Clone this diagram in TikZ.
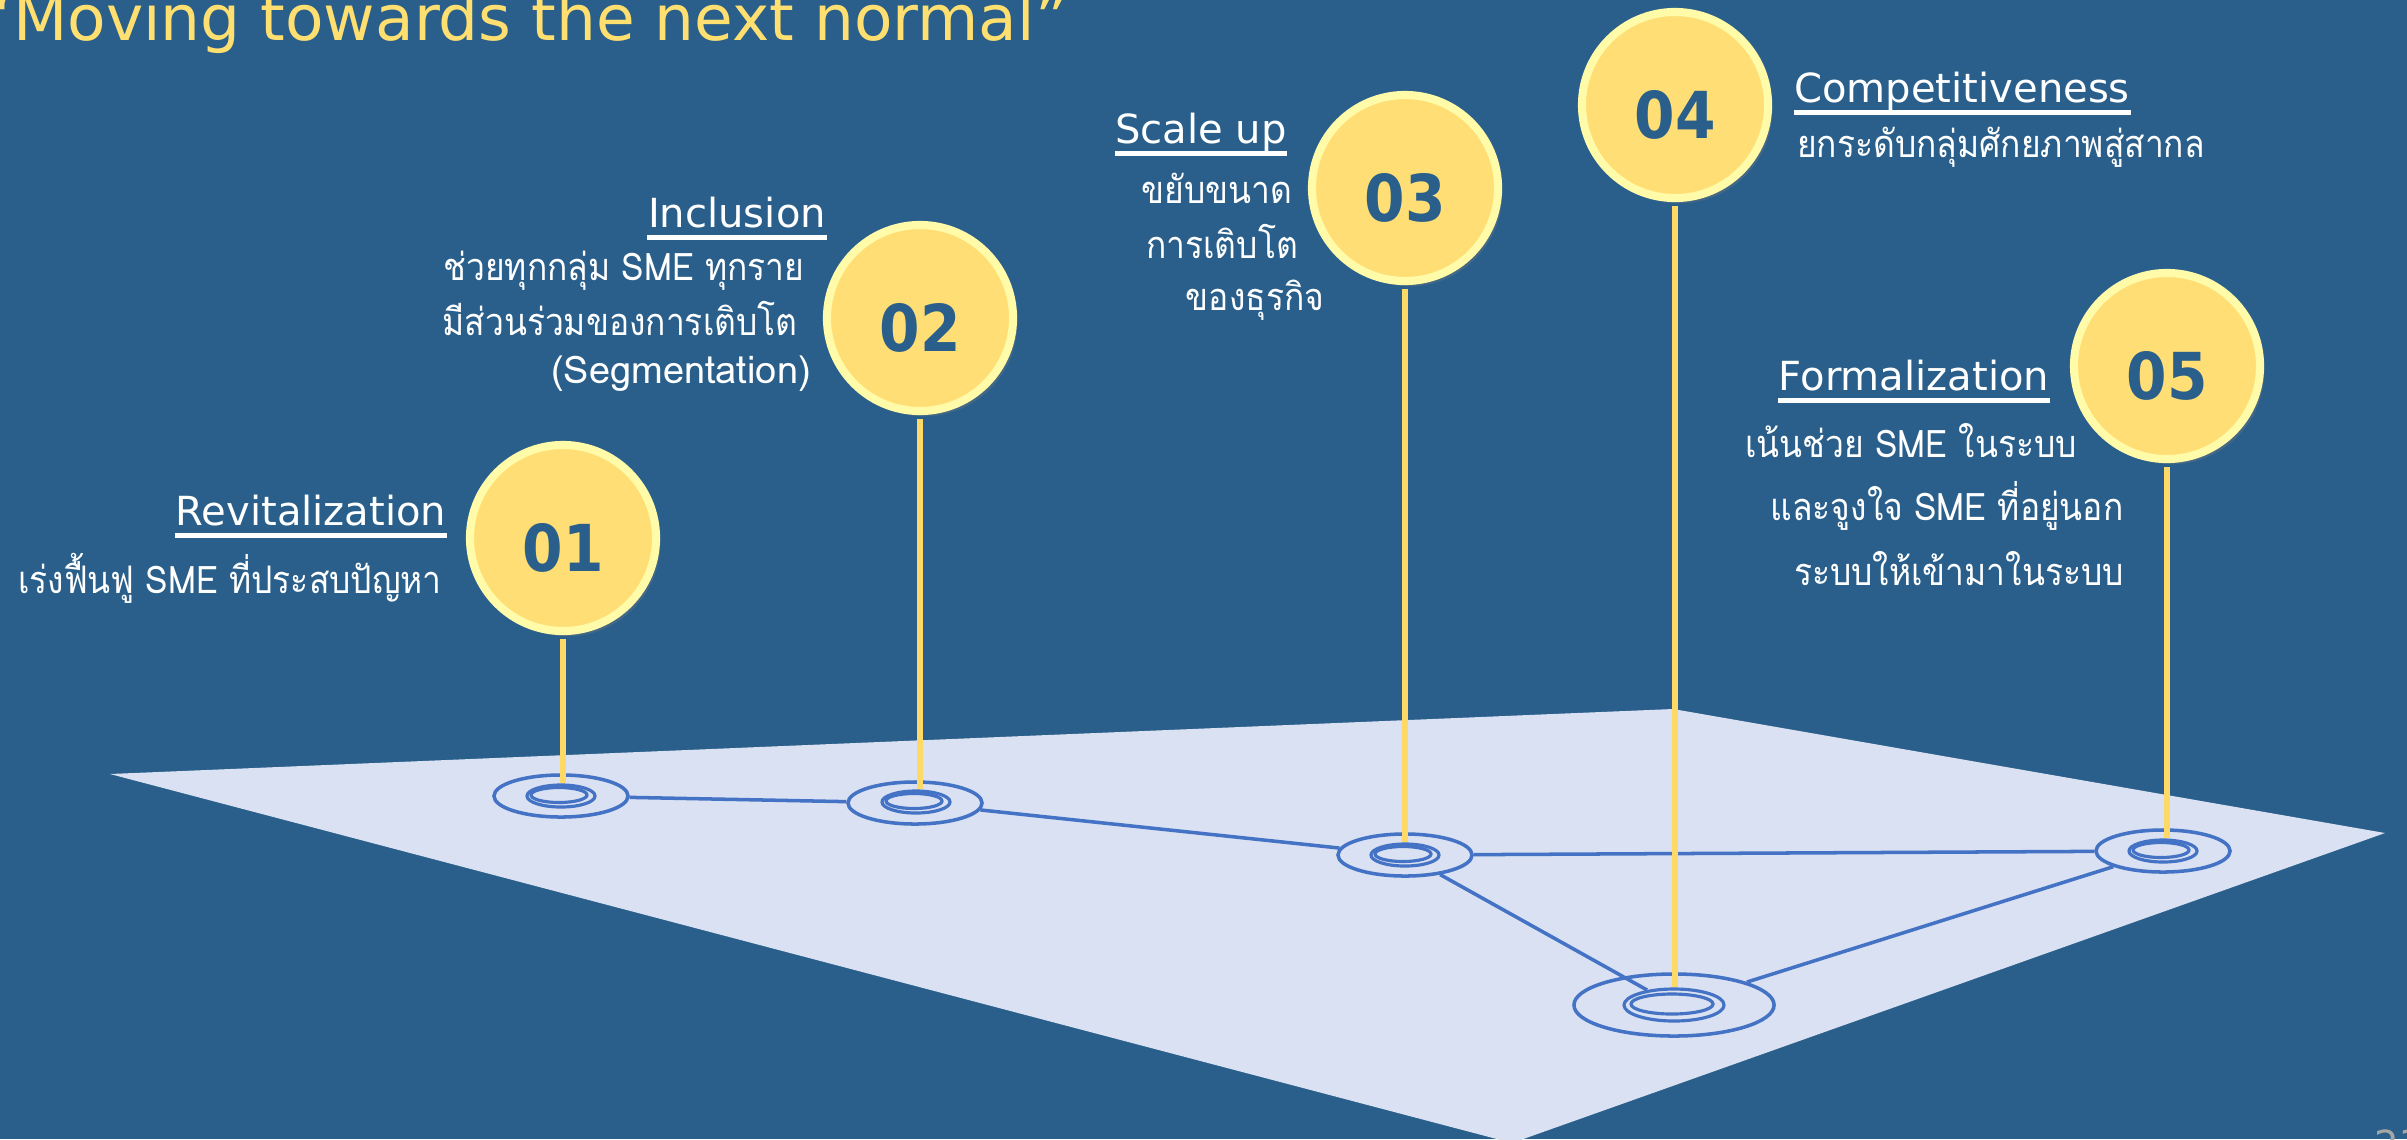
\documentclass[tikz,border=0pt]{standalone}
\usepackage{fontspec}
\setmainfont{DejaVu Sans}
\newfontfamily\thaifont[Script=Thai,FakeStretch=0.885]{Loma}
\newfontfamily\latinthai{Loma}
\newfontfamily\numfont[FakeStretch=0.9]{DejaVu Sans}
\usetikzlibrary{shapes.geometric,shadows}
\definecolor{bgblue}{HTML}{295F8A}
\definecolor{floorgray}{HTML}{D9E1F2}
\definecolor{netblue}{HTML}{4472C4}
\definecolor{pinfill}{HTML}{FFDF75}
\definecolor{pinrim}{HTML}{FFFBA8}
\definecolor{stemgold}{HTML}{FFD966}
\definecolor{titlegold}{HTML}{FFDF70}
\definecolor{pagegray}{HTML}{A6A6A6}
\tikzset{
  pin/.style={circle, fill=pinfill, draw=pinrim, line width=2.3pt, minimum size=1.86cm, inner sep=0pt,
    text=bgblue, font=\numfont\bfseries\fontsize{18.4}{18.4}\selectfont, text height=19pt, text depth=0pt,
    drop shadow={shadow xshift=1.2pt, shadow yshift=-1.5pt, opacity=0.3}},
  pad/.style={ellipse, draw=netblue, line width=1pt, inner sep=0pt, minimum width=1.34cm, minimum height=0.42cm},
  bigpad/.style={pad, minimum width=2cm, minimum height=0.62cm},
  ring/.style={ellipse, draw=netblue, line width=0.9pt, inner sep=0pt, minimum width=0.68cm, minimum height=0.22cm},
  bigring/.style={ring, minimum width=1cm, minimum height=0.32cm},
  coil/.style={ring, minimum width=0.56cm, minimum height=0.15cm},
  bigcoil/.style={ring, minimum width=0.82cm, minimum height=0.2cm},
  stem/.style={draw=stemgold, line width=1.7pt},
  link/.style={draw=netblue, line width=1pt},
  heading/.style={text=white, inner sep=0pt, anchor=base, font=\fontsize{11.4}{13}\selectfont},
  thailine/.style={text=white, inner sep=0pt, anchor=base, font=\thaifont\fontsize{10.8}{13}\selectfont},
  latinline/.style={thailine, font=\latinthai\fontsize{10.8}{13}\selectfont},
  uline/.style={draw=white, line width=1.4pt}
}

\begin{document}
\begin{tikzpicture}[x=0.01cm, y=-0.01cm]
  \useasboundingbox (0,0) rectangle (2407,1139);
  \clip (0,0) rectangle (2407,1139);
  \fill[bgblue] (0,0) rectangle (2407,1139);
  % floor plane
  \fill[floorgray] (110,774) -- (1673,709) -- (2385,833) -- (1512,1143) -- cycle;

  \node[anchor=base west, inner sep=0pt, text=titlegold, font=\fontsize{17.9}{20}\selectfont] (title) at (-20,40) {“Moving towards the next normal”};

  % pads on the floor
  \node[pad] (b1) at (561,796) {};
  \node[ring] (r1) at (561,796) {};
  \node[coil] (c1) at (559,795) {};
  \node[pad] (b2) at (915,803) {};
  \node[ring] (r2) at (916,802) {};
  \node[coil] (c2) at (914,801) {};
  \node[pad] (b3) at (1405,855) {};
  \node[ring] (r3) at (1405,855) {};
  \node[coil] (c3) at (1403,854) {};
  \node[bigpad] (b4) at (1674,1005) {};
  \node[bigring] (r4) at (1674,1005) {};
  \node[bigcoil] (c4) at (1672,1004) {};
  \node[pad] (b5) at (2163,851) {};
  \node[ring] (r5) at (2163,851) {};
  \node[coil] (c5) at (2161,850) {};

  \draw[link] (b1) -- (b2);
  \draw[link] (b2) -- (b3);
  \draw[link] (b3) -- (b5);
  \draw[link] (b3) -- (r4);
  \draw[link] (b4) -- (b5);

  % pins
  \node[pin] (p1) at (563,538) {01};
  \node[pin] (p2) at (920,318) {02};
  \node[pin] (p3) at (1405,188) {03};
  \node[pin] (p4) at (1675,105) {04};
  \node[pin] (p5) at (2167,366) {05};

  \draw[stem] ([yshift=-1.1pt]p1.south) -- (p1.south |- r1.north);
  \draw[stem] ([yshift=-1.1pt]p2.south) -- (p2.south |- r2.north);
  \draw[stem] ([yshift=-1.1pt]p3.south) -- (p3.south |- r3.north);
  \draw[stem] ([yshift=-1.1pt]p4.south) -- (p4.south |- r4.north);
  \draw[stem] ([yshift=-1.1pt]p5.south) -- (p5.south |- r5.north);

  % labels
  \node[heading] (h1) at (311,525) {Revitalization};
  \draw[uline] ([yshift=-2.9pt]h1.base west) -- ([yshift=-2.9pt]h1.base east);
  \node[thailine] (t1) at (230,593) {เร่งฟื้นฟู SME ที่ประสบปัญหา};

  \node[heading] (h2) at (737,227) {Inclusion};
  \draw[uline] ([yshift=-2.9pt]h2.base west) -- ([yshift=-2.9pt]h2.base east);
  \node[thailine] (t2a) at (624,280) {ช่วยทุกกลุ่ม SME ทุกราย};
  \node[thailine] (t2b) at (620,335) {มีส่วนร่วมของการเติบโต};
  \node[latinline] (t2c) at (681,383) {(Segmentation)};

  \node[heading] (h3) at (1201,143) {Scale up};
  \draw[uline] ([yshift=-2.9pt]h3.base west) -- ([yshift=-2.9pt]h3.base east);
  \node[thailine] (t3a) at (1217,203) {ขยับขนาด};
  \node[thailine] (t3b) at (1222,258) {การเติบโต};
  \node[thailine] (t3c) at (1255,310) {ของธุรกิจ};

  \node[heading] (h4) at (1962,102) {Competitiveness};
  \draw[uline] ([yshift=-2.9pt]h4.base west) -- ([yshift=-2.9pt]h4.base east);
  \node[thailine] (t4) at (2001,157) {ยกระดับกลุ่มศักยภาพสู่สากล};

  \node[heading] (h5) at (1914,390) {Formalization};
  \draw[uline] ([yshift=-2.9pt]h5.base west) -- ([yshift=-2.9pt]h5.base east);
  \node[thailine] (t5a) at (1911,457) {เน้นช่วย SME ในระบบ};
  \node[thailine] (t5b) at (1947,520) {และจูงใจ SME ที่อยู่นอก};
  \node[thailine] (t5c) at (1959,585) {ระบบให้เข้ามาในระบบ};

  \node[anchor=base west, inner sep=0pt, text=pagegray, font=\fontsize{11}{13}\selectfont] (pg) at (2374,1158) {23};
\end{tikzpicture}
\end{document}
